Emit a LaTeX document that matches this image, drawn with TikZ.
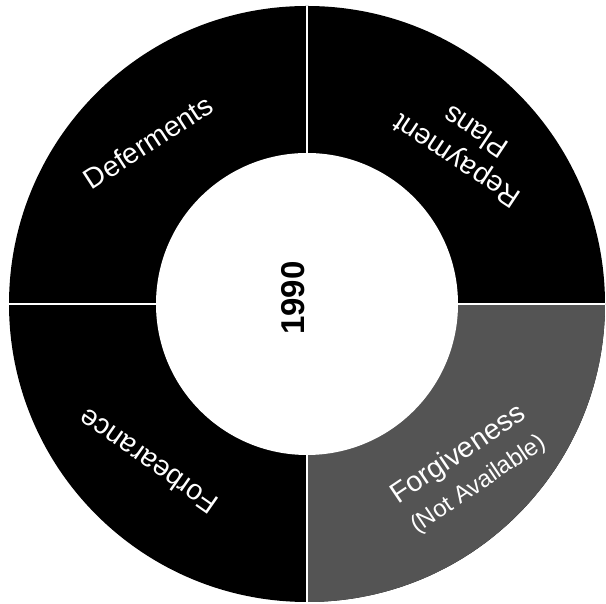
\documentclass[tikz,border=0pt]{standalone}
\usepackage{fontspec}
\setmainfont{Liberation Sans}
\definecolor{forggray}{gray}{0.33}
\begin{document}
\begin{tikzpicture}[x=1pt,y=1pt,
  lbl/.style={text=white,font=\fontsize{28.5}{35}\selectfont,inner sep=0pt,align=center},
  yearlbl/.style={text=black,font=\fontsize{33}{40}\selectfont\bfseries,inner sep=0pt},
  divider/.style={draw=white,line width=1.6pt}]
\useasboundingbox (0,0) rectangle (606,604);
\coordinate (c) at (307,300);
% ring
\fill[black] (c) circle[radius=298];
\fill[forggray] (c) -- ++(0:298) arc[start angle=0,end angle=-90,radius=298] -- cycle;
\fill[white] (c) circle[radius=151];
% dividers
\draw[divider] (c) ++(90:151) -- ++(90:147);
\draw[divider] (c) ++(180:151) -- ++(180:147);
\draw[divider] (c) ++(0:151) -- ++(0:147);
\draw[divider] (c) ++(270:151) -- ++(270:147);
% labels
\node[yearlbl, rotate=90] (year) at (293,306) {1990};
\node[lbl, rotate=33] (def) at (148,462) {Deferments};
\node[lbl, rotate=146.5] (rep) at (466,457.5) {Repayment\\Plans};
\node[lbl, rotate=145] (forb) at (148,142) {Forbearance};
\node[lbl, rotate=34] (forg) at (468,135) {Forgiveness\\{\fontsize{24}{35}\selectfont(Not Available)}};
\end{tikzpicture}
\end{document}
